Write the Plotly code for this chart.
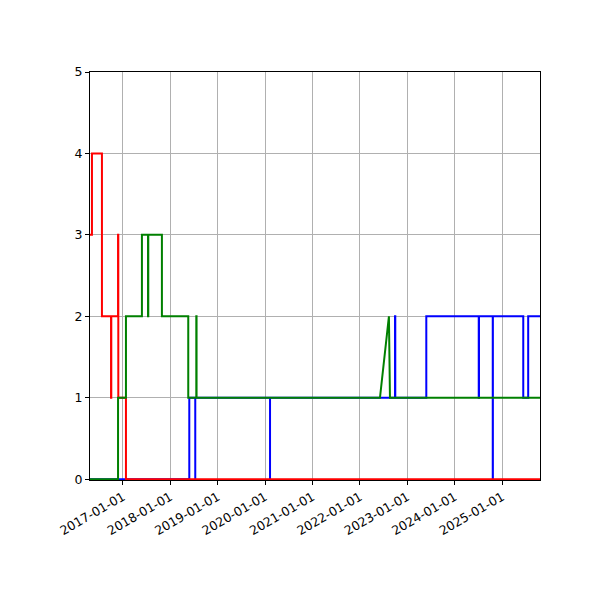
import plotly.graph_objects as go

# step series: dates where the value changes and the value taken from there on
red_dates = ["2016-04-22", "2016-05-07", "2016-07-23", "2016-10-01", "2016-10-03",
             "2016-11-24", "2016-11-26", "2017-01-24", "2025-10-19"]
red_vals = [3, 4, 2, 1, 2, 3, 1, 0, 0]

blue_dates = ["2016-04-22", "2018-05-27", "2018-07-12", "2018-07-12", "2020-02-08", "2020-02-08",
              "2022-09-28", "2022-09-30", "2023-05-27", "2024-07-04", "2024-07-06",
              "2024-10-20", "2024-10-21", "2025-06-12", "2025-07-20", "2025-10-19"]
blue_vals = [0, 1, 0, 1, 0, 1, 2, 1, 2, 1, 2, 0, 2, 1, 2, 2]

# green drawn as straight segments (it has one sloped piece)
green_dates = ["2016-04-22", "2016-11-24", "2016-11-24", "2017-01-24", "2017-01-24",
               "2017-05-27", "2017-05-27", "2017-07-13", "2017-07-13", "2017-07-15", "2017-07-15",
               "2017-10-28", "2017-10-28", "2018-05-19", "2018-05-19", "2018-07-20", "2018-07-20",
               "2018-07-22", "2018-07-22", "2022-06-04", "2022-08-12", "2022-08-20", "2025-10-19"]
green_vals = [0, 0, 1, 1, 2, 2, 3, 3, 2, 2, 3, 3, 2, 2, 1, 1, 2, 2, 1, 1, 2, 1, 1]

tick_vals = ["2017-01-01", "2018-01-01", "2019-01-01", "2020-01-01", "2021-01-01",
             "2022-01-01", "2023-01-01", "2024-01-01", "2025-01-01"]

fig = go.Figure()
fig.add_trace(go.Scatter(x=blue_dates, y=blue_vals, mode="lines", line=dict(color="blue", width=2, shape="hv")))
fig.add_trace(go.Scatter(x=red_dates, y=red_vals, mode="lines", line=dict(color="red", width=2, shape="hv")))
fig.add_trace(go.Scatter(x=green_dates, y=green_vals, mode="lines", line=dict(color="green", width=2)))

axis_style = dict(showline=True, linecolor="black", linewidth=1, mirror=True, ticks="outside",
                  ticklen=4, tickcolor="black", showgrid=True, gridcolor="#b0b0b0", zeroline=False,
                  tickfont=dict(family="DejaVu Sans", size=12.5, color="black"))
fig.update_xaxes(range=["2016-04-22", "2025-10-19"], tickvals=tick_vals, ticktext=tick_vals,
                 tickangle=-30, **axis_style)
fig.update_yaxes(range=[-0.01, 5], tickvals=[0, 1, 2, 3, 4, 5], **axis_style)
fig.update_layout(width=600, height=600, showlegend=False, plot_bgcolor="white", paper_bgcolor="white",
                  margin=dict(l=82, r=68, t=64, b=128))
fig.write_html("out.html")
